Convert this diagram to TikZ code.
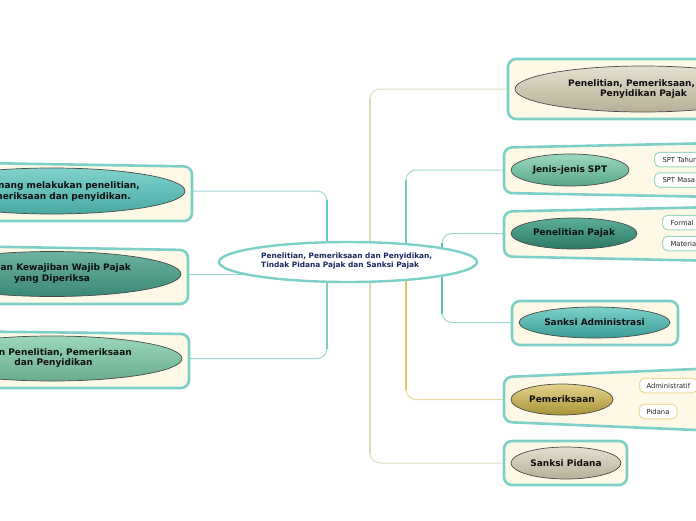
\documentclass[tikz,border=0pt]{standalone}
\usepackage{fontspec}
\setmainfont{DejaVu Sans}
\usetikzlibrary{shapes.geometric}
\pgfdeclarelayer{bg}
\pgfsetlayers{bg,main}
\definecolor{boxline}{HTML}{7DD0C8}
\definecolor{boxfill}{HTML}{FEF9E7}
\definecolor{ovalline}{HTML}{4A4A4A}
\definecolor{lbltext}{HTML}{101010}
\definecolor{navy}{HTML}{1B2A5C}
\definecolor{chtext}{HTML}{262626}
\definecolor{chgreen}{HTML}{9ED8BE}
\definecolor{chyellow}{HTML}{EEDA92}
\definecolor{lTop}{HTML}{5EC8C0}
\definecolor{lBot}{HTML}{80D0B2}
\definecolor{lThin}{HTML}{9AD8D2}
\definecolor{bgeThick}{HTML}{E0D6BA}
\definecolor{bgeThin}{HTML}{E4DCC4}
\definecolor{grnThick}{HTML}{78CCB4}
\definecolor{grnThin}{HTML}{A8DDC8}
\definecolor{ylwThick}{HTML}{E0C85A}
\definecolor{ylwThin}{HTML}{EADBA0}
\definecolor{tealThick}{HTML}{5AC3BB}
\definecolor{tealThin}{HTML}{9ED8D0}
\definecolor{aTop}{HTML}{80D2CC}\definecolor{aBot}{HTML}{48A8A2}
\definecolor{bTop}{HTML}{6DB2A2}\definecolor{bBot}{HTML}{3B8875}
\definecolor{cTop}{HTML}{9CD7BA}\definecolor{cBot}{HTML}{69AB8E}
\definecolor{dTop}{HTML}{E4E0D0}\definecolor{dBot}{HTML}{B7AF96}
\definecolor{eTop}{HTML}{9CD9BE}\definecolor{eBot}{HTML}{58A68A}
\definecolor{fTop}{HTML}{5CB09A}\definecolor{fBot}{HTML}{2B7764}
\definecolor{gTop}{HTML}{7CD1CA}\definecolor{gBot}{HTML}{3A9C97}
\definecolor{hTop}{HTML}{E6D28C}\definecolor{hBot}{HTML}{A89436}
\begin{document}
\begin{tikzpicture}[x=1pt,y=-1pt,
  mbox/.style={draw=boxline, line width=2.6pt, fill=boxfill, rounded corners=8pt},
  oval/.style={ellipse, draw=ovalline, line width=0.7pt, inner sep=0pt},
  lbl/.style={font=\fontsize{9}{10.5}\selectfont\bfseries, text=lbltext, inner sep=0pt},
  child/.style={draw=#1, line width=1pt, fill=white, rounded corners=5pt,
    minimum height=14.5pt, inner ysep=0pt, font=\fontsize{6.8}{8}\selectfont, text=chtext},
  thinline/.style={draw=#1, line width=1pt, rounded corners=10pt},
  thickline/.style={draw=#1, line width=2.6pt},
  chline/.style={draw=#1, line width=1pt, rounded corners=4pt}
]
\useasboundingbox (0,0) rectangle (696,520);

% boxes
\path[mbox] (-20,163) -- (192,166.5) -- (192,221) -- (-20,221) -- cycle;
\path[mbox] (-20,246.5) -- (188,250) -- (188,304) -- (-20,304) -- cycle;
\path[mbox] (-20,331.5) -- (189,334) -- (189,388) -- (-20,388) -- cycle;
\path[mbox] (508,59) -- (720,59) -- (720,119) -- (508,119) -- cycle;
\path[mbox] (504,147.5) -- (720,143) -- (720,197) -- (504,193) -- cycle;
\path[mbox] (504,211.5) -- (720,207) -- (720,261) -- (504,256.5) -- cycle;
\path[mbox] (512,301) -- (678,301) -- (678,345) -- (512,345) -- cycle;
\path[mbox] (504,377) -- (720,368) -- (720,431) -- (504,422) -- cycle;
\path[mbox] (504,441) -- (627,441) -- (627,485) -- (504,485) -- cycle;

% central
\node[ellipse, draw=boxline, line width=2.4pt, fill=white, minimum width=258pt, minimum height=40pt] (center) at (348,262) {};
\node[anchor=west, align=left, inner sep=0pt, text=navy, font=\fontsize{7.4}{9.5}\selectfont\bfseries] (centertext) at (261,261)
  {Penelitian, Pemeriksaan dan Penyidikan,\\Tindak Pidana Pajak dan Sanksi Pajak};

% left ovals
\node[oval, minimum width=266pt, minimum height=46pt, top color=aTop, bottom color=aBot] (l1) at (52,191) {};
\node[lbl, anchor=east] (l1a) at (140,186) {nang melakukan penelitian,};
\node[lbl, anchor=east] (l1b) at (131,197) {meriksaan dan penyidikan.};
\node[oval, minimum width=258pt, minimum height=45pt, top color=bTop, bottom color=bBot] (l2) at (52,274) {};
\node[lbl, anchor=east] (l2a) at (131,268.5) {an Kewajiban Wajib Pajak};
\node[lbl] (l2b) at (52,279.5) {yang Diperiksa};
\node[oval, minimum width=260pt, minimum height=45pt, top color=cTop, bottom color=cBot] (l3) at (52,358.5) {};
\node[lbl, anchor=east] (l3a) at (132,352.5) {n Penelitian, Pemeriksaan};
\node[lbl] (l3b) at (53.5,363.5) {dan Penyidikan};

% right ovals
\node[oval, minimum width=256pt, minimum height=46pt, top color=dTop, bottom color=dBot] (tr) at (643,89) {};
\node[lbl, anchor=west] (tra) at (568,83.5) {Penelitian, Pemeriksaan,};
\node[lbl] (trb) at (643.5,94.5) {Penyidikan Pajak};
\node[oval, lbl, minimum width=118pt, minimum height=32pt, top color=eTop, bottom color=eBot] (js) at (570,170) {Jenis-jenis SPT};
\node[oval, lbl, minimum width=126pt, minimum height=31pt, top color=fTop, bottom color=fBot] (pp) at (574,233.5) {Penelitian Pajak};
\node[oval, lbl, minimum width=151pt, minimum height=31pt, top color=gTop, bottom color=gBot] (sa) at (594.5,322.5) {Sanksi Administrasi};
\node[oval, lbl, minimum width=102pt, minimum height=31pt, top color=hTop, bottom color=hBot] (pm) at (562,399.5) {Pemeriksaan};
\node[oval, lbl, minimum width=110pt, minimum height=32pt, top color=dTop, bottom color=dBot] (sp) at (566,463) {Sanksi Pidana};

% children
\node[child=chgreen, anchor=west, text width=50pt, align=left, inner xsep=8pt] (s1) at (654,159.5) {SPT Tahun};
\node[child=chgreen, anchor=west, text width=50pt, align=left, inner xsep=8pt] (s2) at (654,180) {SPT Masa};
\node[child=chgreen, anchor=west, text width=50pt, align=left, inner xsep=8pt] (f1) at (662,222.5) {Formal};
\node[child=chgreen, anchor=west, text width=50pt, align=left, inner xsep=8pt] (f2) at (662,243.5) {Materia};
\node[child=chyellow, anchor=west, text width=44pt, align=left, inner xsep=7pt] (a1) at (639,385.5) {Administratif};
\node[child=chyellow, minimum width=38pt, inner xsep=0pt] (a2) at (658,411.5) {Pidana};

% junction coordinates
\coordinate (cL) at (327,262);
\coordinate (cB) at (370,262);
\coordinate (cG) at (406,262);
\coordinate (cT) at (442,262);
\coordinate (cM) at (270,274);
\coordinate (pEnd) at (700,411.5);

\begin{pgfonlayer}{bg}
  % left
  \draw[thinline=lThin] (l1.east) -| (cL);
  \draw[thinline=lThin] (l3.east) -| (cL);
  \draw[thinline=lThin] (l2.east) -- (cM);
  \draw[thickline=lTop] (327,200) -- (cL);
  \draw[thickline=lBot] (cL) -- (327,349);
  % beige
  \draw[thinline=bgeThin] (tr.west) -| (cB);
  \draw[thinline=bgeThin] (sp.west) -| (cB);
  \draw[thickline=bgeThick] (370,99) -- (370,453);
  % green / yellow
  \draw[thinline=grnThin] (js.west) -| (cG);
  \draw[thinline=ylwThin] (pm.west) -| (cG);
  \draw[thickline=grnThick] (406,180) -- (cG);
  \draw[thickline=ylwThick] (cG) -- (406,390);
  % teal
  \draw[thinline=tealThin] (pp.west) -| (cT);
  \draw[thinline=tealThin] (sa.west) -| (cT);
  \draw[thickline=tealThick] (442,243) -- (442,314);
  % child brackets
  \draw[chline=chgreen] (js.east) -- ++(11,0) |- (s1.west);
  \draw[chline=chgreen] (js.east) -- ++(11,0) |- (s2.west);
  \draw[chline=chgreen] (pp.east) -- ++(10,0) |- (f1.west);
  \draw[chline=chgreen] (pp.east) -- ++(10,0) |- (f2.west);
  \draw[chline=chyellow] (pm.east) -- ++(11,0) |- (a1.west);
  \draw[chline=chyellow] (pm.east) -- ++(11,0) |- (a2.west);
  \draw[chline=chyellow] (a2.east) -- (pEnd);
\end{pgfonlayer}
\end{tikzpicture}
\end{document}
